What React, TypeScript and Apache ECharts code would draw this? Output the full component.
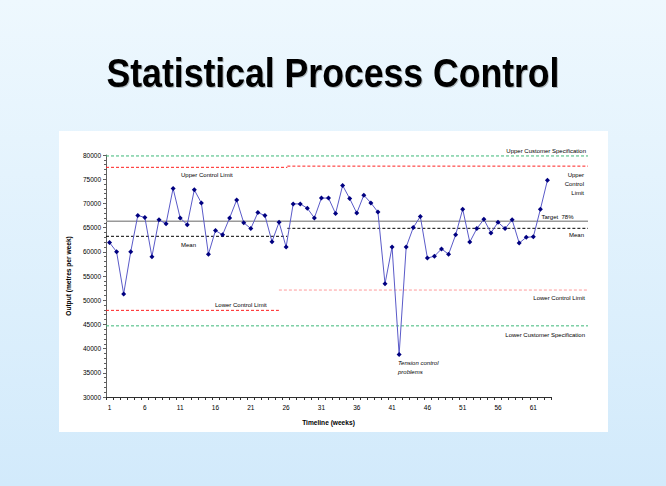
import React, { useEffect, useRef } from "react";
import * as echarts from "echarts";

const weeks: string[] = Array.from({ length: 63 }, (_, i) => String(i + 1));

const output: number[] = [
  61900, 60000, 51300, 60000, 67500, 67100, 59000, 66600, 65800, 73100,
  67000, 65600, 72800, 70100, 59500, 64400, 63500, 67000, 70700, 66000,
  64800, 68100, 67500, 62100, 66100, 61000, 69900, 69900, 69000, 67000,
  71100, 71100, 67900, 73700, 71000, 68000, 71700, 70100, 68200, 53400,
  61000, 38800, 61000, 65000, 67300, 58700, 59100, 60600, 59500, 63500,
  68800, 62000, 64800, 66700, 63900, 66100, 64800, 66600, 61800, 63000,
  63100, 68800, 74800,
];

// reference levels (output, metres per week)
const customerSpecUpper = 79800;
const customerSpecLower = 44700;
const targetLevel = 66300;
const uclLevels = [77450, 77700];
const meanLevels = [63200, 64850];
const lclLevels = [47900, 52100];
// week at which the control limits were recalculated
const uclSplitWeek = 26.2;
const lclSplitWeek = 25.0;
const refStartWeek = 0.5;
const refEndWeek = 68.8;

const yTicks = { min: 30000, max: 80000, step: 5000 };

const FONT = "'Liberation Sans', Arial, sans-serif";

export default function App() {
  const ref = useRef<HTMLDivElement>(null);
  useEffect(() => {
    if (!ref.current) return;
    const chart = echarts.init(ref.current, null, { renderer: "svg" });

    const refLine = (
      x0: number,
      x1: number,
      v: number,
      color: string,
      type: any,
      width = 1
    ) => ({
      type: "line",
      xAxisIndex: 1,
      yAxisIndex: 1,
      data: [
        [x0, v],
        [x1, v],
      ],
      symbol: "none",
      silent: true,
      z: 1,
      lineStyle: { color, width, type },
    });

    const dash = [3, 2];
    const small = (
      text: string,
      x: number,
      y: number,
      align: string,
      extra: any = {}
    ) => ({
      type: "text",
      z: 100,
      style: {
        text,
        x,
        y,
        textAlign: align,
        textVerticalAlign: "middle",
        fontSize: 6,
        fontFamily: FONT,
        fill: "#000",
        lineHeight: 9,
        ...extra,
      },
    });

    const option: any = {
      animation: false,
      backgroundColor: {
        type: "linear",
        x: 0,
        y: 0,
        x2: 0,
        y2: 1,
        colorStops: [
          { offset: 0, color: "#eef8fe" },
          { offset: 1, color: "#d2eafb" },
        ],
      },
      grid: [
        { left: 106, top: 155, right: 115, bottom: 89, containLabel: false },
        { left: 106, top: 155, right: 78, bottom: 89, containLabel: false },
      ],
      xAxis: [
        {
          type: "category",
          gridIndex: 0,
          data: weeks,
          boundaryGap: true,
          name: "Timeline (weeks)",
          nameLocation: "middle",
          nameGap: 22,
          nameTextStyle: {
            fontSize: 6.6,
            fontWeight: "bold",
            fontFamily: FONT,
            color: "#000",
          },
          axisLine: { lineStyle: { color: "#303030", width: 1 } },
          axisTick: { show: true, interval: 0, length: 3, lineStyle: { color: "#303030" } },
          axisLabel: {
            interval: 4,
            fontSize: 6.5,
            fontFamily: FONT,
            color: "#000",
            margin: 7,
          },
          splitLine: { show: false },
        },
        {
          type: "value",
          gridIndex: 1,
          min: refStartWeek,
          max: refEndWeek,
          show: false,
        },
      ],
      yAxis: [
        {
          type: "value",
          gridIndex: 0,
          min: yTicks.min,
          max: yTicks.max,
          interval: yTicks.step,
          name: "Output (metres per week)",
          nameLocation: "middle",
          nameRotate: 90,
          nameGap: 28,
          nameTextStyle: {
            fontSize: 6.6,
            fontWeight: "bold",
            fontFamily: FONT,
            color: "#000",
          },
          axisLine: { show: true, lineStyle: { color: "#606060", width: 1 } },
          axisTick: { show: true, length: 3, lineStyle: { color: "#606060" } },
          minorTick: { show: true, splitNumber: 5, length: 2, lineStyle: { color: "#606060" } },
          axisLabel: {
            fontSize: 6.5,
            fontFamily: FONT,
            color: "#000",
            margin: 5,
            formatter: (v: number) => String(v),
          },
          splitLine: { show: false },
        },
        {
          type: "value",
          gridIndex: 1,
          min: yTicks.min,
          max: yTicks.max,
          show: false,
        },
      ],
      graphic: {
        elements: [
          {
            type: "rect",
            z: -10,
            shape: { x: 59, y: 131, width: 549, height: 301 },
            style: { fill: "#ffffff" },
          },
          {
            type: "text",
            z: 100,
            x: 333,
            y: 73,
            scaleX: 0.89,
            style: {
              text: "Statistical Process Control",
              x: 0,
              y: 0,
              textAlign: "center",
              textVerticalAlign: "middle",
              fontSize: 40,
              fontWeight: "bold",
              fontFamily: FONT,
              fill: "#000",
              textShadowColor: "rgba(0,0,0,0.25)",
              textShadowOffsetX: 1,
              textShadowOffsetY: 1,
              textShadowBlur: 1,
            },
          },
          small("Upper Customer Specification", 586, 150.5, "right"),
          small("Upper Control Limit", 181, 175, "left"),
          small("Upper\nControl\nLimit", 584, 184, "right"),
          small("Target  78%", 541.5, 217, "left"),
          small("Mean", 181, 245, "left"),
          small("Mean", 584, 235, "right"),
          small("Lower Control Limit", 215, 305, "left"),
          small("Lower Control Limit", 585, 298, "right"),
          small("Lower Customer Specification", 585, 335, "right"),
          small("Tension control\nproblems", 398, 367, "left", { fontStyle: "italic" }),
        ],
      },
      series: [
        refLine(refStartWeek, refEndWeek, customerSpecUpper, "#3cb878", dash),
        refLine(refStartWeek, refEndWeek, customerSpecLower, "#3cb878", dash),
        refLine(refStartWeek, uclSplitWeek, uclLevels[0], "#ff2020", dash),
        refLine(uclSplitWeek, refEndWeek, uclLevels[1], "#ff2020", dash),
        refLine(refStartWeek, refEndWeek, targetLevel, "#999999", "solid", 1.6),
        refLine(refStartWeek, uclSplitWeek, meanLevels[0], "#000000", dash),
        refLine(uclSplitWeek, refEndWeek, meanLevels[1], "#000000", dash),
        refLine(refStartWeek, lclSplitWeek, lclLevels[0], "#ff2020", dash),
        refLine(lclSplitWeek, refEndWeek, lclLevels[1], "#ff9a9a", dash),
        {
          type: "line",
          xAxisIndex: 0,
          yAxisIndex: 0,
          data: output,
          symbol: "diamond",
          symbolSize: 5,
          showAllSymbol: true,
          z: 10,
          itemStyle: { color: "#000080" },
          lineStyle: { color: "#5a5ac8", width: 1 },
        },
      ],
    };

    chart.setOption(option);
    return () => chart.dispose();
  }, []);

  return (
    <div
      ref={ref}
      style={{ position: "absolute", left: 0, top: 0, width: 666, height: 486 }}
    />
  );
}
